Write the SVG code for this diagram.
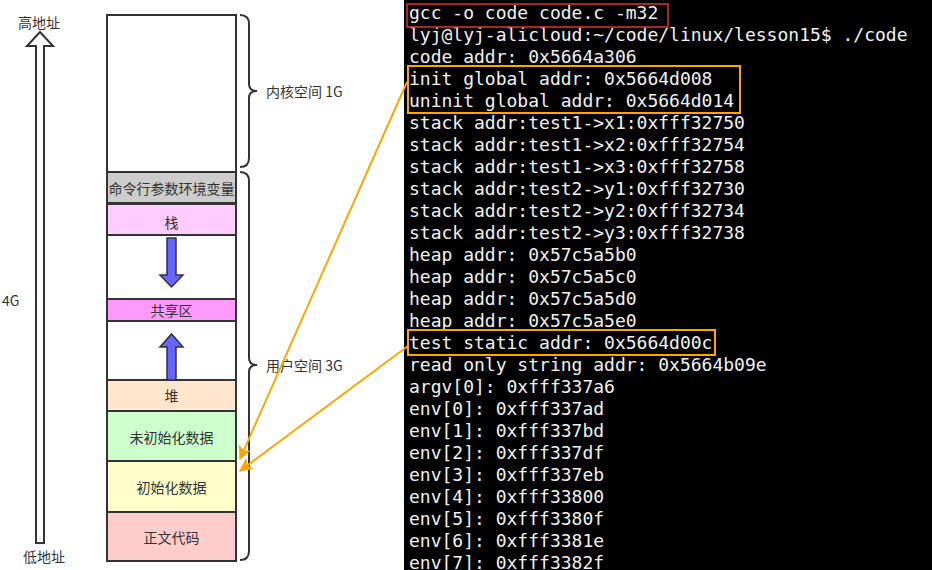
<svg xmlns="http://www.w3.org/2000/svg" width="932" height="570" viewBox="0 0 932 570">
<defs>
<style>
.seg{stroke:#333;stroke-width:2}
.cn{font-family:"Noto Sans CJK SC","Noto Sans",sans-serif;font-size:14px;fill:#333;text-anchor:middle;dominant-baseline:central}
.lb{font-family:"Noto Sans CJK SC","Noto Sans",sans-serif;font-size:14px;fill:#333;dominant-baseline:central}
.term{font-family:"DejaVu Sans Mono",monospace;font-size:18px;fill:#f2f2f2}
.brace{fill:none;stroke:#333;stroke-width:2}
.blue{fill:#6666ff;stroke:#333;stroke-width:1.5}
.orange{stroke:#ffa500;stroke-width:2;fill:none}
</style>
<marker id="ah" viewBox="0 0 10 10" refX="9" refY="5" markerWidth="6" markerHeight="6" orient="auto" markerUnits="userSpaceOnUse" >
<path d="M0,0 L10,5 L0,10 L3,5 z" fill="#ffa500"/>
</marker>
<marker id="ah2" viewBox="0 0 12 12" refX="11" refY="6" markerWidth="14" markerHeight="14" orient="auto" markerUnits="userSpaceOnUse">
<path d="M0,0 L12,6 L0,12 L3,6 z" fill="#ffa500"/>
</marker>
</defs>
<rect width="932" height="570" fill="#fff"/>

<g id="terminal">
<rect x="404" y="0" width="528" height="570" fill="#000"/>
<g class="term">
<text x="409" y="19">gcc -o code code.c -m32</text>
<text x="409" y="41">lyj@lyj-alicloud:~/code/linux/lesson15$ ./code</text>
<text x="409" y="63">code addr: 0x5664a306</text>
<text x="409" y="85">init global addr: 0x5664d008</text>
<text x="409" y="107">uninit global addr: 0x5664d014</text>
<text x="409" y="129">stack addr:test1-&gt;x1:0xfff32750</text>
<text x="409" y="151">stack addr:test1-&gt;x2:0xfff32754</text>
<text x="409" y="173">stack addr:test1-&gt;x3:0xfff32758</text>
<text x="409" y="195">stack addr:test2-&gt;y1:0xfff32730</text>
<text x="409" y="217">stack addr:test2-&gt;y2:0xfff32734</text>
<text x="409" y="239">stack addr:test2-&gt;y3:0xfff32738</text>
<text x="409" y="261">heap addr: 0x57c5a5b0</text>
<text x="409" y="283">heap addr: 0x57c5a5c0</text>
<text x="409" y="305">heap addr: 0x57c5a5d0</text>
<text x="409" y="327">heap addr: 0x57c5a5e0</text>
<text x="409" y="349">test static addr: 0x5664d00c</text>
<text x="409" y="371">read only string addr: 0x5664b09e</text>
<text x="409" y="393">argv[0]: 0xfff337a6</text>
<text x="409" y="415">env[0]: 0xfff337ad</text>
<text x="409" y="437">env[1]: 0xfff337bd</text>
<text x="409" y="459">env[2]: 0xfff337df</text>
<text x="409" y="481">env[3]: 0xfff337eb</text>
<text x="409" y="503">env[4]: 0xfff33800</text>
<text x="409" y="525">env[5]: 0xfff3380f</text>
<text x="409" y="547">env[6]: 0xfff3381e</text>
<text x="409" y="569">env[7]: 0xfff3382f</text>
</g>
<rect x="407" y="4" width="261" height="23" fill="none" stroke="#e53030" stroke-width="1.5"/>
<rect x="408" y="66" width="332" height="47" fill="none" stroke="#ffa500" stroke-width="2"/>
<rect x="408" y="330" width="307" height="25" fill="none" stroke="#ffa500" stroke-width="2"/>
</g>

<g id="address-axis">
<path d="M36,543 L44,543 L44,46 L53,46 L40,32 L27,46 L36,46 Z" fill="#fff" stroke="#333" stroke-width="2"/>
<text class="cn" x="39" y="22">高地址</text>
<text class="cn" x="44" y="556">低地址</text>
<text class="lb" x="2" y="300">4G</text>
</g>

<g id="kernel"><rect class="seg" x="107" y="15" width="129" height="157" fill="#fff"/></g>
<g id="env"><rect class="seg" x="107" y="172" width="129" height="31" fill="#cccccc"/><text class="cn" x="171.5" y="188">命令行参数环境变量</text></g>
<g id="stack"><rect class="seg" x="107" y="204" width="129" height="31" fill="#ffccff"/><text class="cn" x="171.5" y="222">栈</text></g>
<g id="gap1"><rect class="seg" x="107" y="235" width="129" height="64" fill="#fff"/></g>
<g id="shared"><rect class="seg" x="107" y="299" width="129" height="22" fill="#ff99ff"/><text class="cn" x="171.5" y="310">共享区</text></g>
<g id="gap2"><rect class="seg" x="107" y="321" width="129" height="59" fill="#fff"/></g>
<g id="heap"><rect class="seg" x="107" y="380" width="129" height="31" fill="#ffe6cc"/><text class="cn" x="171.5" y="395">堆</text></g>
<g id="bss"><rect class="seg" x="107" y="411" width="129" height="50" fill="#ccffcc"/><text class="cn" x="171.5" y="437">未初始化数据</text></g>
<g id="data"><rect class="seg" x="107" y="461" width="129" height="51" fill="#ffffcc"/><text class="cn" x="171.5" y="487">初始化数据</text></g>
<g id="text-seg"><rect class="seg" x="107" y="512" width="129" height="49" fill="#ffcccc"/><text class="cn" x="171.5" y="537">正文代码</text></g>

<g id="stack-grow"><path class="blue" d="M167,238 L176,238 L176,275 L183,275 L171.5,287 L160,275 L167,275 Z"/></g>
<g id="heap-grow"><path class="blue" d="M167,380 L176,380 L176,347 L183,347 L171.5,334 L160,347 L167,347 Z"/></g>

<g id="kernel-brace">
<path class="brace" d="M240,15 Q249,15 249,24 L249,84 Q249,91 257,91 Q249,91 249,98 L249,158 Q249,167 240,167"/>
<text class="lb" x="266" y="91">内核空间 1G</text>
</g>
<g id="user-brace">
<path class="brace" d="M240,172 Q249,172 249,181 L249,358 Q249,365 257,365 Q249,365 249,372 L249,551 Q249,560 240,560"/>
<text class="lb" x="266" y="365">用户空间 3G</text>
</g>

<g id="connectors">
<line class="orange" x1="407" y1="82" x2="240" y2="459" marker-end="url(#ah2)"/>
<line class="orange" x1="408" y1="346" x2="240" y2="471" marker-end="url(#ah2)"/>
</g>
</svg>
